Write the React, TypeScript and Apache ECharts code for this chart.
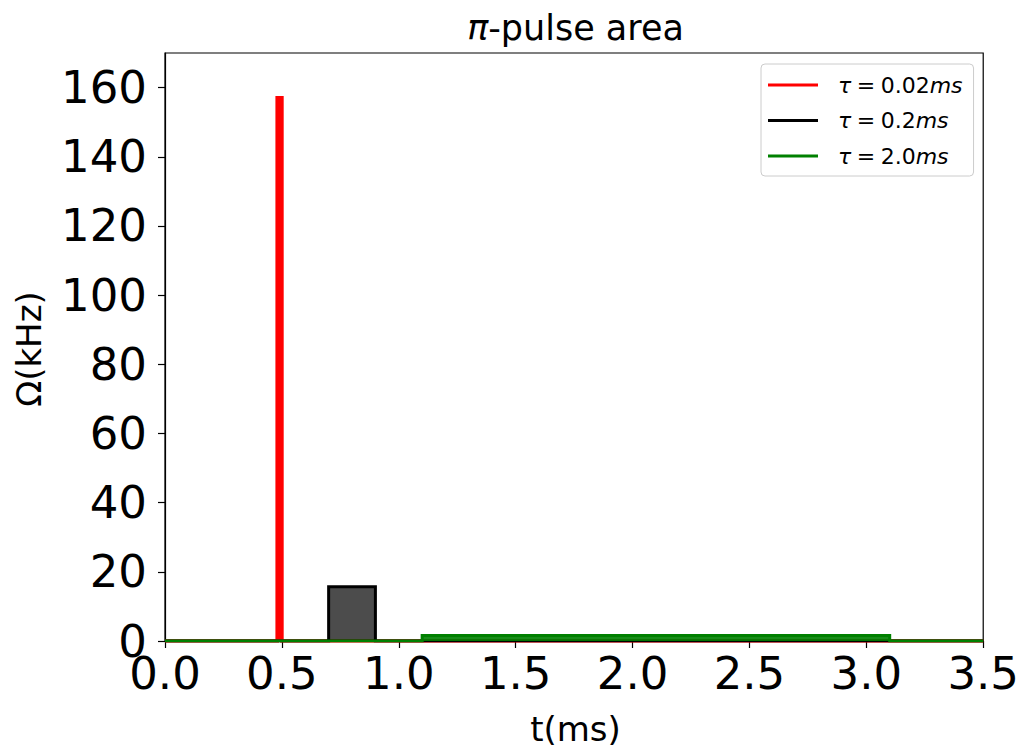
import React, { useEffect, useRef } from "react";
import * as echarts from "echarts";

// pulse definitions (ms, kHz)
const pulseNames = ["τ = 0.02ms", "τ = 0.2ms", "τ = 2.0ms"];
const pulseStart = [0.48, 0.7, 1.1];
const pulseEnd = [0.5, 0.9, 3.1];
const pulseAmp = [157.08, 15.708, 1.5708];
const pulseColors = ["#ff0000", "#000000", "#008000"];
const fillColors = ["rgba(255,0,0,1)", "rgba(0,0,0,0.7)", "rgba(0,128,0,0.9)"];
const lineWidths = [3.6, 3, 3];
const tMin = 0;
const tMax = 3.5;
const xTicks = [0, 0.5, 1.0, 1.5, 2.0, 2.5, 3.0, 3.5];
const yTicks = [0, 20, 40, 60, 80, 100, 120, 140, 160];

const FONT = "DejaVu Sans";
const SP = "\u2005";

function pulsePoints(i: number): number[][] {
  return [
    [tMin, 0],
    [pulseStart[i], 0],
    [pulseStart[i], pulseAmp[i]],
    [pulseEnd[i], pulseAmp[i]],
    [pulseEnd[i], 0],
    [tMax, 0],
  ];
}

const legendLabels: Record<string, string> = {
  "τ = 0.02ms": `{i|τ}{n|${SP}=${SP}0.02}{i|ms}`,
  "τ = 0.2ms": `{i|τ}{n|${SP}=${SP}0.2}{i|ms}`,
  "τ = 2.0ms": `{i|τ}{n|${SP}=${SP}2.0}{i|ms}`,
};

export default function App() {
  const ref = useRef<HTMLDivElement>(null);
  useEffect(() => {
    if (!ref.current) return;
    const chart = echarts.init(ref.current, null, { renderer: "svg" });
    const series = pulseNames.map((name, i) => ({
      name,
      type: "line",
      data: pulsePoints(i),
      showSymbol: false,
      symbol: "none",
      lineStyle: { color: pulseColors[i], width: lineWidths[i], join: "miter" },
      itemStyle: { color: pulseColors[i] },
      areaStyle: { color: fillColors[i], opacity: 1, origin: 0 },
      z: 2 + i,
    }));
    chart.setOption({
      animation: false,
      backgroundColor: "#ffffff",
      grid: {
        left: 165,
        top: 53,
        right: 36,
        bottom: 110,
        show: true,
        borderColor: "#000",
        borderWidth: 1.2,
        backgroundColor: "transparent",
      },
      xAxis: {
        type: "value",
        min: tMin,
        max: tMax,
        interval: 0.5,
        splitLine: { show: false },
        axisLine: { show: true, onZero: false, lineStyle: { color: "#000", width: 1.2 } },
        axisTick: { show: true, inside: false, length: 7, lineStyle: { color: "#000", width: 1.2 } },
        axisLabel: {
          customValues: xTicks,
          formatter: (v: number) => v.toFixed(1),
          color: "#000",
          fontFamily: FONT,
          fontSize: 45,
          margin: 10,
        },
      },
      yAxis: {
        type: "value",
        min: 0,
        max: 170,
        interval: 20,
        splitLine: { show: false },
        axisLine: { show: true, onZero: false, lineStyle: { color: "#000", width: 1.2 } },
        axisTick: {
          show: true,
          inside: false,
          length: 7,
          customValues: yTicks,
          lineStyle: { color: "#000", width: 1.2 },
        },
        axisLabel: {
          customValues: yTicks,
          formatter: (v: number) => String(v),
          color: "#000",
          fontFamily: FONT,
          fontSize: 45,
          margin: 18,
        },
      },
      legend: {
        orient: "vertical",
        left: 761,
        top: 64,
        padding: [10, 11, 9, 7],
        itemGap: 13.5,
        itemWidth: 50,
        itemHeight: 3,
        icon: "rect",
        backgroundColor: "rgba(255,255,255,0.8)",
        borderColor: "#cccccc",
        borderWidth: 1,
        borderRadius: 4,
        data: pulseNames,
        formatter: (name: string) => legendLabels[name],
        textStyle: {
          color: "#000",
          padding: [0, 0, 0, 15],
          rich: {
            i: { fontFamily: FONT, fontStyle: "italic", fontSize: 22, color: "#000" },
            n: { fontFamily: FONT, fontSize: 22, color: "#000" },
          },
        },
      },
      graphic: [
        {
          type: "text",
          x: 575.5,
          y: 28,
          style: {
            text: "{i|π}{n|-pulse area}",
            align: "center",
            verticalAlign: "middle",
            rich: {
              i: { fontFamily: FONT, fontStyle: "italic", fontSize: 35, fill: "#000" },
              n: { fontFamily: FONT, fontSize: 35, fill: "#000" },
            },
          },
        },
        {
          type: "text",
          x: 575.5,
          y: 729,
          style: {
            text: "t(ms)",
            align: "center",
            verticalAlign: "middle",
            fontFamily: FONT,
            fontSize: 34,
            fill: "#000",
          },
        },
        {
          type: "text",
          x: 29,
          y: 349,
          rotation: Math.PI / 2,
          style: {
            text: "Ω(kHz)",
            align: "center",
            verticalAlign: "middle",
            fontFamily: FONT,
            fontSize: 34,
            fill: "#000",
          },
        },
      ],
      series,
    });
    return () => chart.dispose();
  }, []);
  return (
    <div
      ref={ref}
      style={{ position: "fixed", left: 0, top: 0, width: 1022, height: 751 }}
    />
  );
}
